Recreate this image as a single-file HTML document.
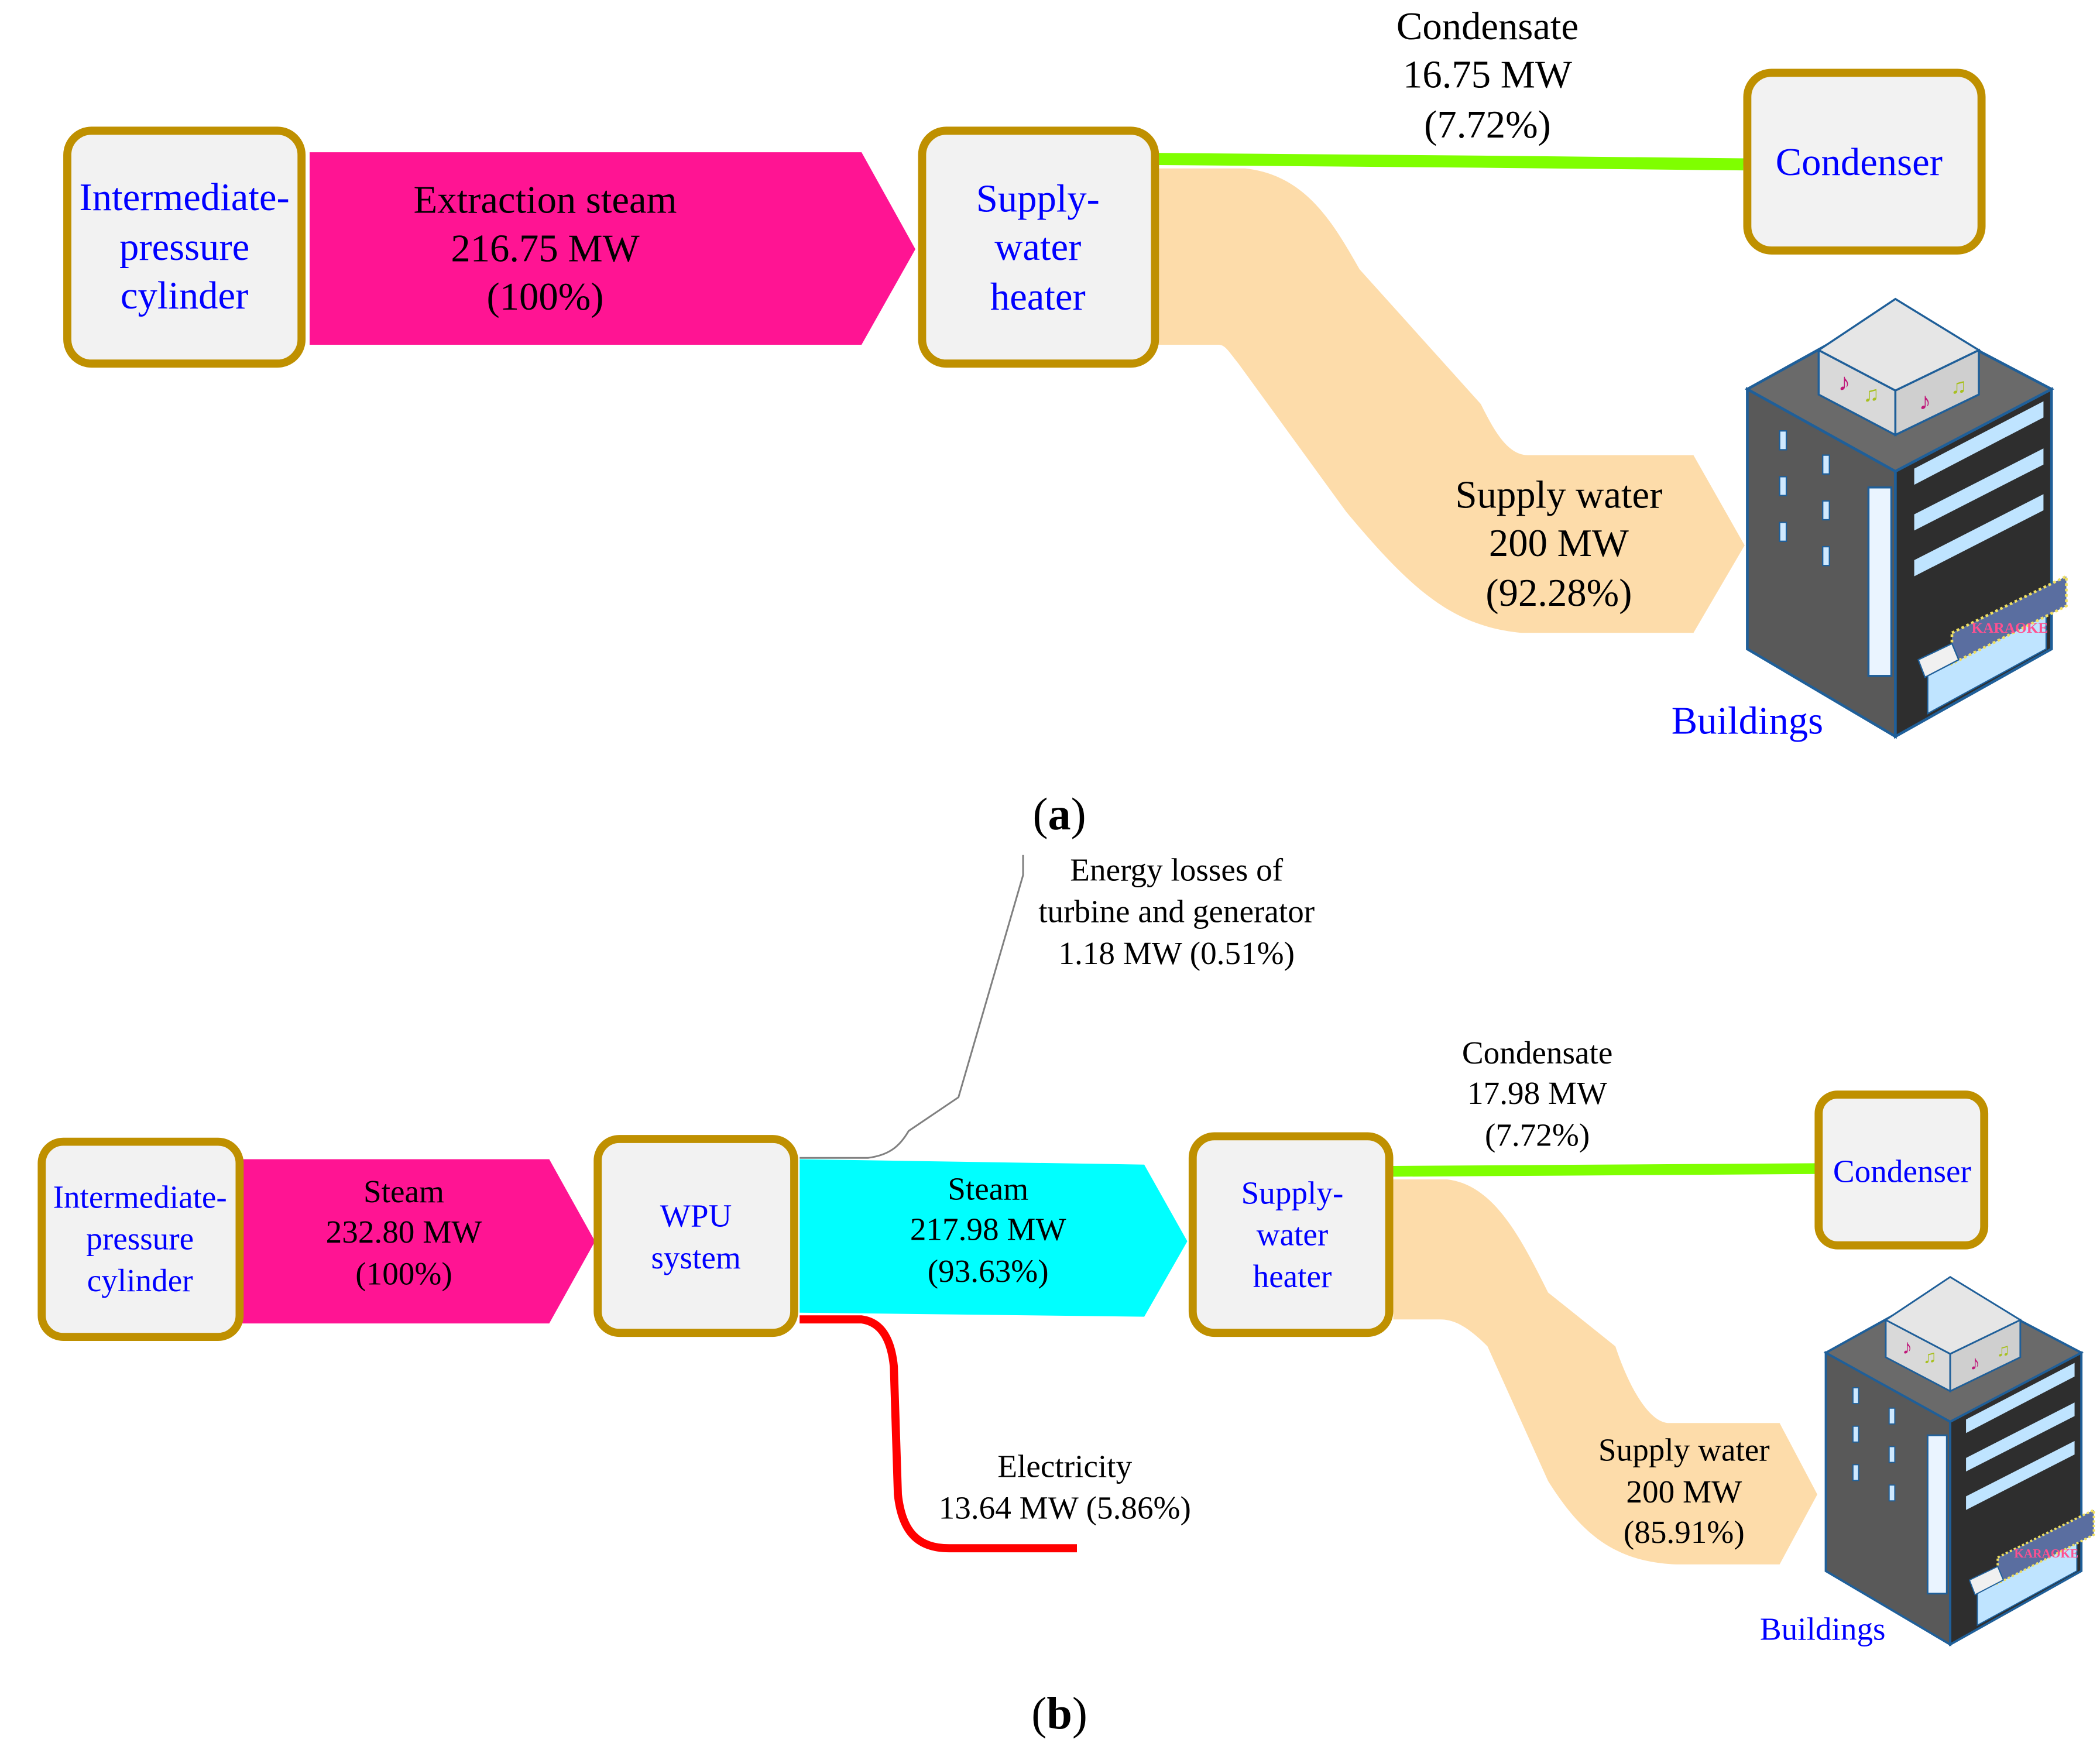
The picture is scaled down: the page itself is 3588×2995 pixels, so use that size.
<!DOCTYPE html>
<html><head><meta charset="utf-8"><style>
html,body{margin:0;padding:0;background:#fff}
svg{display:block}
text{font-family:"Liberation Serif",serif;text-anchor:middle}
.k{fill:#000}.b{fill:#0000ff}
</style></head><body>
<svg width="3588" height="2995" viewBox="0 0 1560 1302" xmlns="http://www.w3.org/2000/svg">
<defs>
<g id="bld">
  <!-- left face -->
  <polygon points="1298,289 1408,350 1408,547 1298,482" fill="#595959" stroke="#1f5f99" stroke-width="2"/>
  <!-- right face -->
  <polygon points="1408,350 1524,289 1524,482 1408,547" fill="#2e2e2e" stroke="#1f5f99" stroke-width="2"/>
  <!-- top -->
  <polygon points="1298,289 1408,228 1524,289 1408,350" fill="#6a6a6a" stroke="#1f5f99" stroke-width="2"/>
  <!-- roof box -->
  <polygon points="1351,260 1408,290 1408,323 1351,293" fill="#d9d9d9" stroke="#1f5f99" stroke-width="1.5"/>
  <polygon points="1408,290 1470,260 1470,293 1408,323" fill="#cfcfcf" stroke="#1f5f99" stroke-width="1.5"/>
  <polygon points="1351,260 1408,222 1470,260 1408,290" fill="#e6e6e6" stroke="#1f5f99" stroke-width="1.5"/>
  <text x="1370" y="290" style="font-size:18px;fill:#c0187a">♪</text>
  <text x="1390" y="298" style="font-size:16px;fill:#a8c020">♫</text>
  <text x="1430" y="304" style="font-size:18px;fill:#c0187a">♪</text>
  <text x="1455" y="292" style="font-size:16px;fill:#a8c020">♫</text>
  <!-- stripes -->
  <polygon points="1422,348 1518,298 1518,310 1422,360" fill="#bfe4ff"/>
  <polygon points="1422,382 1518,333 1518,345 1422,394" fill="#bfe4ff"/>
  <polygon points="1422,416 1518,367 1518,379 1422,428" fill="#bfe4ff"/>
  <!-- windows -->
  <rect x="1322" y="320" width="5" height="14" fill="#cfe9ff" stroke="#1f5f99" stroke-width="1"/>
  <rect x="1322" y="354" width="5" height="14" fill="#cfe9ff" stroke="#1f5f99" stroke-width="1"/>
  <rect x="1322" y="388" width="5" height="14" fill="#cfe9ff" stroke="#1f5f99" stroke-width="1"/>
  <rect x="1354" y="338" width="5" height="14" fill="#cfe9ff" stroke="#1f5f99" stroke-width="1"/>
  <rect x="1354" y="372" width="5" height="14" fill="#cfe9ff" stroke="#1f5f99" stroke-width="1"/>
  <rect x="1354" y="406" width="5" height="14" fill="#cfe9ff" stroke="#1f5f99" stroke-width="1"/>
  <rect x="1388" y="362" width="17" height="140" fill="#eaf4ff" stroke="#1f5f99" stroke-width="1.5"/>
  <!-- storefront -->
  <polygon points="1432,490 1520,445 1520,482 1432,530" fill="#bfe4ff" stroke="#1f5f99" stroke-width="1"/>
  <polygon points="1450,470 1535,428 1535,450 1450,493" fill="#5a6ea0" stroke="#f0e060" stroke-width="2" stroke-dasharray="2 2"/>
  <text x="1493" y="470" style="font-size:11px;fill:#ff5090;font-weight:bold">KARAOKE</text>
  <polygon points="1425,490 1450,478 1455,490 1430,503" fill="#f0f0f0" stroke="#1f5f99" stroke-width="1"/>
</g>
</defs>

<!-- ===== (a) ===== -->
<polygon points="230,113 640,113 680,185 640,256 230,256" fill="#ff1493"/>
<path d="M860,125 L925,125 C970,130 990,165 1010,200 L1100,300 C1110,320 1120,338 1135,338 L1258,338 L1296,405 L1258,470 L1130,470 C1080,465 1050,440 1000,380 L920,270 C912,260 910,256 905,256 L860,256 Z" fill="#fddcaa"/>
<path d="M860,118 L1100,120 L1295,122" stroke="#7fff00" stroke-width="9" fill="none"/>
<rect x="50" y="97" width="174" height="173" rx="18" fill="#f2f2f2" stroke="#bf9000" stroke-width="6"/>
<rect x="685" y="97" width="173" height="173" rx="18" fill="#f2f2f2" stroke="#bf9000" stroke-width="6"/>
<rect x="1298" y="54" width="174" height="132" rx="18" fill="#f2f2f2" stroke="#bf9000" stroke-width="6"/>
<g style="font-size:29px">
<text class="b" x="137" y="156">Intermediate-</text>
<text class="b" x="137" y="193">pressure</text>
<text class="b" x="137" y="229">cylinder</text>
<text class="k" x="405" y="158">Extraction steam</text>
<text class="k" x="405" y="194">216.75 MW</text>
<text class="k" x="405" y="230">(100%)</text>
<text class="b" x="771" y="157">Supply-</text>
<text class="b" x="771" y="193">water</text>
<text class="b" x="771" y="230">heater</text>
<text class="k" x="1105" y="29">Condensate</text>
<text class="k" x="1105" y="65">16.75 MW</text>
<text class="k" x="1105" y="102">(7.72%)</text>
<text class="b" x="1381" y="130">Condenser</text>
<text class="k" x="1158" y="377">Supply water</text>
<text class="k" x="1158" y="413">200 MW</text>
<text class="k" x="1158" y="450">(92.28%)</text>
</g>
<use href="#bld"/>
<text class="b" x="1298" y="545" style="font-size:29px">Buildings</text>
<text class="k" x="787" y="616" style="font-size:34px">(<tspan font-weight="bold">a</tspan>)</text>

<!-- ===== (b) ===== -->
<polygon points="180,861 408,861 442,922 408,983 180,983" fill="#ff1493"/>
<polygon points="594,861 850,865 882,922 850,978 594,975" fill="#00ffff"/>
<path d="M1035,876 L1075,876 C1110,880 1130,920 1150,960 L1200,1000 C1210,1030 1225,1057 1240,1057 L1322,1057 L1350,1110 L1322,1162 L1245,1162 C1200,1160 1175,1140 1150,1100 L1105,1000 C1090,985 1080,980 1070,980 L1035,980 Z" fill="#fddcaa"/>
<path d="M1035,870 L1350,868" stroke="#7fff00" stroke-width="8" fill="none"/>
<path d="M594,860 L645,860 C660,858 668,852 675,840 L712,815 L760,650 L760,635" stroke="#808080" stroke-width="1.3" fill="none"/>
<path d="M594,980 L640,980 C655,982 662,995 664,1015 L667,1110 C670,1138 682,1150 705,1150 L800,1150" stroke="#ff0000" stroke-width="6" fill="none"/>
<rect x="31" y="848" width="147" height="145" rx="16" fill="#f2f2f2" stroke="#bf9000" stroke-width="6"/>
<rect x="444" y="846" width="146" height="144" rx="16" fill="#f2f2f2" stroke="#bf9000" stroke-width="6"/>
<rect x="886" y="844" width="146" height="146" rx="16" fill="#f2f2f2" stroke="#bf9000" stroke-width="6"/>
<rect x="1351" y="813" width="123" height="112" rx="14" fill="#f2f2f2" stroke="#bf9000" stroke-width="6"/>
<g style="font-size:24px">
<text class="b" x="104" y="897">Intermediate-</text>
<text class="b" x="104" y="928">pressure</text>
<text class="b" x="104" y="959">cylinder</text>
<text class="k" x="300" y="893">Steam</text>
<text class="k" x="300" y="923">232.80 MW</text>
<text class="k" x="300" y="954">(100%)</text>
<text class="b" x="517" y="911">WPU</text>
<text class="b" x="517" y="942">system</text>
<text class="k" x="734" y="891">Steam</text>
<text class="k" x="734" y="921">217.98 MW</text>
<text class="k" x="734" y="952">(93.63%)</text>
<text class="b" x="960" y="894">Supply-</text>
<text class="b" x="960" y="925">water</text>
<text class="b" x="960" y="956">heater</text>
<text class="k" x="1142" y="790">Condensate</text>
<text class="k" x="1142" y="820">17.98 MW</text>
<text class="k" x="1142" y="851">(7.72%)</text>
<text class="b" x="1413" y="878">Condenser</text>
<text class="k" x="874" y="654">Energy losses of</text>
<text class="k" x="874" y="685">turbine and generator</text>
<text class="k" x="874" y="716">1.18 MW (0.51%)</text>
<text class="k" x="791" y="1097">Electricity</text>
<text class="k" x="791" y="1128">13.64 MW (5.86%)</text>
<text class="k" x="1251" y="1085">Supply water</text>
<text class="k" x="1251" y="1116">200 MW</text>
<text class="k" x="1251" y="1146">(85.91%)</text>
<text class="b" x="1354" y="1218">Buildings</text>
</g>
<g transform="translate(266,762) scale(0.84)"><use href="#bld"/></g>
<text class="k" x="787" y="1284" style="font-size:34px">(<tspan font-weight="bold">b</tspan>)</text>
</svg>
</body></html>
